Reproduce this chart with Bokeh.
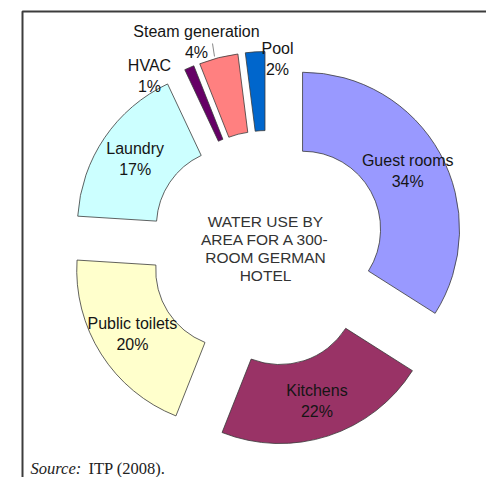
import numpy as np
from bokeh.plotting import figure
from bokeh.models import Range1d
from bokeh.embed import file_html
from bokeh.resources import INLINE
from bokeh.core.properties import value

# ---- data ----
categories = ["Guest rooms", "Kitchens", "Public toilets", "Laundry", "HVAC", "Steam generation", "Pool"]
shares = [34, 22, 20, 17, 1, 4, 2]
colors = ["#9999FF", "#993366", "#FFFFCC", "#CCFFFF", "#660066", "#FF8080", "#0066CC"]
center_lines = ["WATER USE BY", "AREA FOR A 300-", "ROOM GERMAN", "HOTEL"]
source_italic = "Source:"
source_rest = "ITP (2008)."

# ---- layout ----
W, H = 486, 477
CX, CY = 267, 229          # donut centre (data px, y up)
R_OUT, R_IN = 157, 78
EXPLODE = 40
LABEL_R = 120
FONT = value("Liberation Sans")
# labels placed outside the ring for the thin slices (offset from centre, data px)
outside_labels = {"HVAC": (-118, 172.5), "Steam generation": (-71, 206.5), "Pool": (10, 190)}

p = figure(width=W, height=H, output_backend="svg", toolbar_location=None,
           x_range=Range1d(0, W), y_range=Range1d(0, H), min_border=0)
p.axis.visible = False
p.grid.visible = False
p.outline_line_color = None
p.background_fill_color = "white"
p.border_fill_color = "white"

vals = np.array(shares, dtype=float)
frac = vals / vals.sum()
a1 = np.cumsum(frac) * 360.0
a0 = a1 - frac * 360.0
mid = np.radians((a0 + a1) / 2)
ux, uy = np.sin(mid), np.cos(mid)
cx = CX + EXPLODE * ux
cy = CY + EXPLODE * uy
start = np.radians(90 - a1)
end = np.radians(90 - a0)

p.annular_wedge(x=cx, y=cy, inner_radius=R_IN, outer_radius=R_OUT,
                start_angle=start, end_angle=end, direction="anticlock",
                fill_color=colors, line_color="#3a3a3a", line_width=0.8)

pct = [f"{int(v)}%" for v in shares]
for i, cat in enumerate(categories):
    if cat in outside_labels:
        lx, ly = CX + outside_labels[cat][0], CY + outside_labels[cat][1]
    else:
        lx, ly = cx[i] + LABEL_R * ux[i], cy[i] + LABEL_R * uy[i]
    p.text(x=[lx], y=[ly + 10.5], text=[cat], text_align="center", text_baseline="middle",
           text_font=FONT, text_font_size="16px", text_color="#151515")
    p.text(x=[lx], y=[ly - 10.5], text=[pct[i]], text_align="center", text_baseline="middle",
           text_font=FONT, text_font_size="16px", text_color="#151515")

# leader line for steam generation label
p.line(x=[CX - 55, CX - 53], y=[CY + 205, CY + 192], line_color="#888888", line_width=1)

# centre title
for k, t in enumerate(center_lines):
    p.text(x=[CX - 2], y=[CY + 27 - 18 * k], text=[t], text_align="center", text_baseline="middle",
           text_font=FONT, text_font_size="15.5px", text_color="#333333")

# frame
p.line(x=[22, 22, W + 5], y=[-5, H - 11, H - 11], line_color="#3c3c3c", line_width=2)

# source note
p.text(x=[30], y=[9], text=[source_italic], text_align="left", text_baseline="alphabetic",
       text_font=value("Liberation Serif"), text_font_style="italic", text_font_size="16.5px",
       text_color="#222222")
p.text(x=[88], y=[9], text=[source_rest], text_align="left", text_baseline="alphabetic",
       text_font=value("Liberation Serif"), text_font_size="16.5px", text_color="#222222")

open("out.html", "w").write(file_html(p, INLINE))
